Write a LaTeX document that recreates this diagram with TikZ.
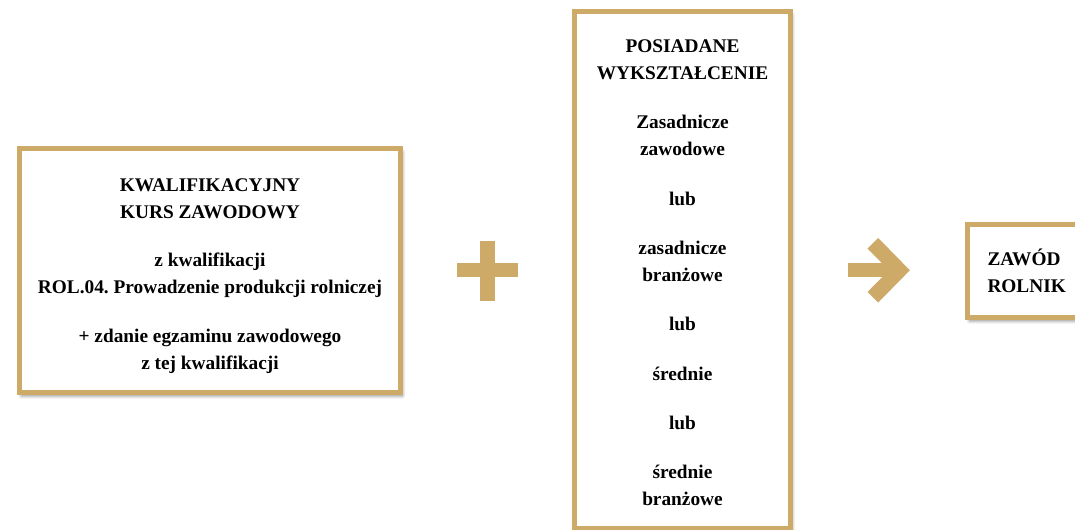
\documentclass[tikz,border=0pt]{standalone}
\usepackage{fontspec}
\setmainfont{Liberation Serif}
\usepackage{xcolor}
\usetikzlibrary{calc, shadows.blur}
\definecolor{gold}{RGB}{206,170,104}
\frenchspacing

\begin{document}
\begin{tikzpicture}[x=0.02cm, y=-0.02cm,
    goldbox/.style={draw=gold, line width=0.1cm, fill=white,
        blur shadow={shadow xshift=0.04cm, shadow yshift=-0.07cm, shadow blur steps=6, shadow opacity=45}},
    boxtext/.style={align=center, font=\bfseries\fontsize{11}{15.3}\selectfont},
    goldbar/.style={draw=gold, line width=0.3cm}]
    \useasboundingbox (0,0) rectangle (1075,530);

    % Course
    \node[goldbox, minimum width=7.62cm, minimum height=4.88cm] (kurs) at (210,270.5) {};
    \node[boxtext] (kurstext) at ($(kurs.center)+(0,5.5)$)
        {KWALIFIKACYJNY\\KURS ZAWODOWY\\[0.44cm]
         z kwalifikacji\\ROL.04. Prowadzenie produkcji rolniczej\\[0.44cm]
         + zdanie egzaminu zawodowego\\z tej kwalifikacji};

    % Education
    \node[goldbox, minimum width=4.31cm, minimum height=10.33cm] (wyk) at (682.5,269.8) {};
    \node[boxtext] (wyktext) at ($(wyk.center)+(0,3)$)
        {POSIADANE\\WYKSZTAŁCENIE\\[0.45cm]
         Zasadnicze\\zawodowe\\[0.45cm]
         lub\\[0.45cm]
         zasadnicze\\branżowe\\[0.45cm]
         lub\\[0.45cm]
         średnie\\[0.45cm]
         lub\\[0.45cm]
         średnie\\branżowe};

    % Profession
    \node[goldbox, boxtext, align=left, text width=1.6cm, inner xsep=0.4cm, minimum height=1.87cm, anchor=west] (zawod) at (965,270.75)
        {ZAWÓD\\ROLNIK};

    % Plus
    \coordinate (plus) at ($(kurs.east)!0.5!(wyk.west)$);
    \fill[gold] ($(plus)+(-30.5,-7.3)$) rectangle ($(plus)+(30.5,7.3)$);
    \fill[gold] ($(plus)+(-7.8,-29.5)$) rectangle ($(plus)+(7.8,31)$);

    % Arrow
    \coordinate (arr) at ($(wyk.east)!0.5!(zawod.west)$);
    \draw[goldbar, line width=0.28cm] ($(arr)+(-30.5,0)$) -- ($(arr)+(17,0)$);
    \draw[goldbar, line join=miter] ($(arr)+(-6,-27)$) -- ($(arr)+(20.5,0)$) -- ($(arr)+(-6,27)$);
\end{tikzpicture}
\end{document}
